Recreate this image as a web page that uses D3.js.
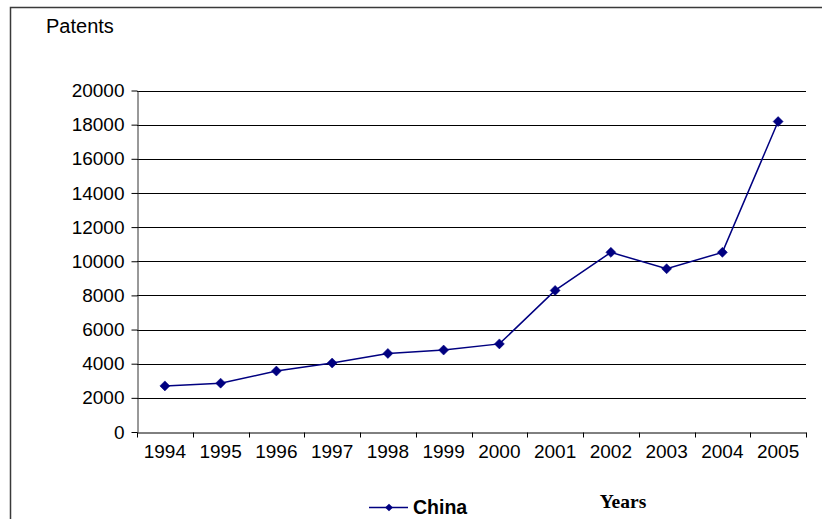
<!DOCTYPE html>
<html>
<head>
<meta charset="utf-8">
<script src="https://cdn.jsdelivr.net/npm/d3@7"></script>
<style>
  html, body { margin: 0; padding: 0; background: #fff; }
  svg { display: block; }
  text { font-family: "Liberation Sans", Arial, sans-serif; fill: #000; }
</style>
</head>
<body>
<svg id="chart" width="822" height="519"></svg>
<script>
// Patent counts for China by year
const years = ["1994", "1995", "1996", "1997", "1998", "1999", "2000", "2001", "2002", "2003", "2004", "2005"];
const chinaPatents = [2700, 2860, 3570, 4040, 4600, 4800, 5160, 8290, 10520, 9560, 10520, 18180];
const yTicks = [0, 2000, 4000, 6000, 8000, 10000, 12000, 14000, 16000, 18000, 20000];
const seriesName = "China";
const yTitle = "Patents";
const xTitle = "Years";

const svg = d3.select("#chart");
const W = 822, H = 519;
const plot = { left: 137, right: 806, top: 90.5, bottom: 432 };
const fs = 19;
const navy = "#000080";

// outer chart frame (runs off the right and bottom edges)
svg.append("rect")
  .attr("x", 10.5).attr("y", 7.5)
  .attr("width", W + 20).attr("height", H + 20)
  .attr("fill", "none").attr("stroke", "#3a3a3a").attr("stroke-width", 1.5);

const x = d3.scaleBand().domain(years).range([plot.left, plot.right]).padding(0);
const y = d3.scaleLinear().domain([0, 20000]).range([plot.bottom, plot.top]);

// horizontal gridlines
svg.append("g")
  .selectAll("line")
  .data(yTicks.filter(d => d > 0))
  .join("line")
  .attr("x1", plot.left).attr("x2", plot.right)
  .attr("y1", d => Math.round(y(d)) + 0.5).attr("y2", d => Math.round(y(d)) + 0.5)
  .attr("stroke", "#000").attr("stroke-width", 1);

// y axis
const yAxis = svg.append("g")
  .attr("transform", `translate(${plot.left + 0.5},0)`)
  .call(d3.axisLeft(y).tickValues(yTicks).tickSize(6).tickPadding(7).tickSizeOuter(0).tickFormat(d3.format("d")));
yAxis.select(".domain").attr("stroke", "#333");
yAxis.selectAll(".tick line").attr("stroke", "#000");
yAxis.selectAll(".tick text")
  .style("font-family", '"Liberation Sans", Arial, sans-serif')
  .style("font-size", fs + "px");

// x axis: labels at category centres, ticks at category boundaries
const xAxis = svg.append("g")
  .attr("transform", `translate(0,${Math.round(plot.bottom) + 0.5})`)
  .call(d3.axisBottom(x).tickSize(0).tickPadding(12));
xAxis.select(".domain").attr("stroke", "#000");
xAxis.selectAll(".tick text")
  .style("font-family", '"Liberation Sans", Arial, sans-serif')
  .style("font-size", fs + "px");

const bounds = years.map(d => x(d)).concat([plot.right]);
xAxis.append("g")
  .selectAll("line")
  .data(bounds)
  .join("line")
  .attr("x1", d => Math.round(d) + 0.5).attr("x2", d => Math.round(d) + 0.5)
  .attr("y1", 0).attr("y2", 5)
  .attr("stroke", "#000");

// data line
const cx = d => x(d) + x.bandwidth() / 2;
const pts = years.map((yr, i) => [cx(yr), y(chinaPatents[i])]);
svg.append("path")
  .attr("d", d3.line()(pts))
  .attr("fill", "none").attr("stroke", navy).attr("stroke-width", 1.5);

// diamond markers
const diamond = d3.symbol(d3.symbolSquare, 50);
svg.append("g")
  .selectAll("path")
  .data(pts)
  .join("path")
  .attr("d", diamond)
  .attr("transform", d => `translate(${d[0]},${d[1]}) rotate(45)`)
  .attr("fill", navy).attr("stroke", navy).attr("stroke-width", 0.5);

// axis titles
svg.append("text")
  .attr("x", 46).attr("y", 33)
  .style("font-size", "20px")
  .text(yTitle);

svg.append("text")
  .attr("x", 623).attr("y", 508)
  .attr("text-anchor", "middle")
  .style("font-family", '"Liberation Serif", "Times New Roman", serif')
  .style("font-weight", "bold")
  .style("font-size", "19.5px")
  .text(xTitle);

// legend
const lg = svg.append("g").attr("transform", "translate(369,507.5)");
lg.append("line").attr("x1", 0).attr("x2", 39).attr("y1", 0).attr("y2", 0)
  .attr("stroke", navy).attr("stroke-width", 1.5);
lg.append("path").attr("d", d3.symbol(d3.symbolSquare, 30))
  .attr("transform", "translate(20,0) rotate(45)").attr("fill", navy);
lg.append("text")
  .attr("x", 44).attr("y", 6.5)
  .style("font-weight", "bold")
  .style("font-size", "19.5px")
  .text(seriesName);
</script>
</body>
</html>
